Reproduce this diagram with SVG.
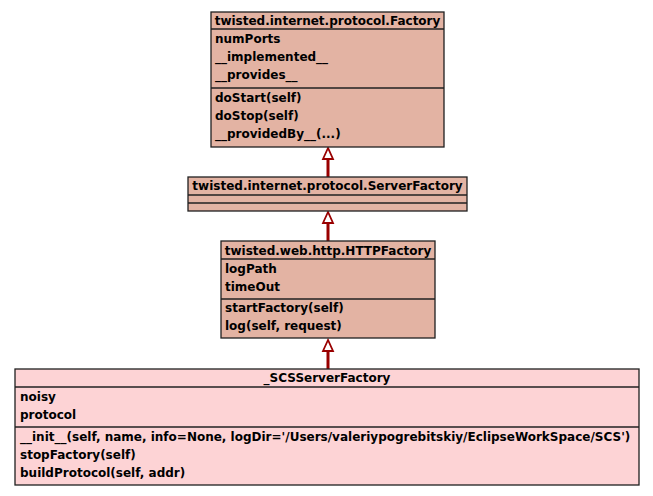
<svg xmlns="http://www.w3.org/2000/svg" width="653" height="496" viewBox="0 0 653 496">
<style>
.box{stroke:#202020;stroke-width:1.3}
.up{fill:#e3b3a3}
.low{fill:#fdd3d5}
.sep{stroke:#202020;stroke-width:1.3}
text{font-family:"DejaVu Sans","Liberation Sans",sans-serif;font-weight:bold;font-size:12px;fill:#000}
.t{text-anchor:middle}
.edge{stroke:#990000;stroke-width:3;fill:none}
.head{stroke:#990000;stroke-width:1.8;fill:#fff}
</style>
<rect width="653" height="496" fill="#fff"/>
<g id="connectors">
<line class="edge" x1="328" y1="159" x2="328" y2="177"/>
<polygon class="head" points="328,148 323,159 333,159"/>
<line class="edge" x1="328" y1="223" x2="328" y2="241"/>
<polygon class="head" points="328,212 323,223 333,223"/>
<line class="edge" x1="328" y1="351" x2="328" y2="369"/>
<polygon class="head" points="328,340 323,351 333,351"/>
</g>
<g id="Factory">
<rect class="box up" x="211" y="12" width="233" height="135"/>
<line class="sep" x1="211" y1="29" x2="444" y2="29"/>
<line class="sep" x1="211" y1="88" x2="444" y2="88"/>
<text class="t" x="327.5" y="25">twisted.internet.protocol.Factory</text>
<text x="215" y="43">numPorts</text>
<text x="215" y="61">__implemented__</text>
<text x="215" y="79">__provides__</text>
<text x="215" y="102">doStart(self)</text>
<text x="215" y="120">doStop(self)</text>
<text x="215" y="138">__providedBy__(...)</text>
</g>
<g id="ServerFactory">
<rect class="box up" x="188" y="177" width="279" height="34"/>
<line class="sep" x1="188" y1="195" x2="467" y2="195"/>
<line class="sep" x1="188" y1="203" x2="467" y2="203"/>
<text class="t" x="327.5" y="190">twisted.internet.protocol.ServerFactory</text>
</g>
<g id="HTTPFactory">
<rect class="box up" x="221" y="241" width="214" height="97"/>
<line class="sep" x1="221" y1="259" x2="435" y2="259"/>
<line class="sep" x1="221" y1="299" x2="435" y2="299"/>
<text class="t" x="328" y="255">twisted.web.http.HTTPFactory</text>
<text x="225" y="273">logPath</text>
<text x="225" y="291">timeOut</text>
<text x="225" y="312">startFactory(self)</text>
<text x="225" y="330">log(self, request)</text>
</g>
<g id="SCSServerFactory">
<rect class="box low" x="15" y="369" width="624" height="116"/>
<line class="sep" x1="15" y1="387" x2="639" y2="387"/>
<line class="sep" x1="15" y1="427" x2="639" y2="427"/>
<text class="t" x="327" y="382">_SCSServerFactory</text>
<text x="20" y="401">noisy</text>
<text x="20" y="419">protocol</text>
<text x="20" y="441">__init__(self, name, info=None, logDir='/Users/valeriypogrebitskiy/EclipseWorkSpace/SCS')</text>
<text x="20" y="459">stopFactory(self)</text>
<text x="20" y="477">buildProtocol(self, addr)</text>
</g>
</svg>
